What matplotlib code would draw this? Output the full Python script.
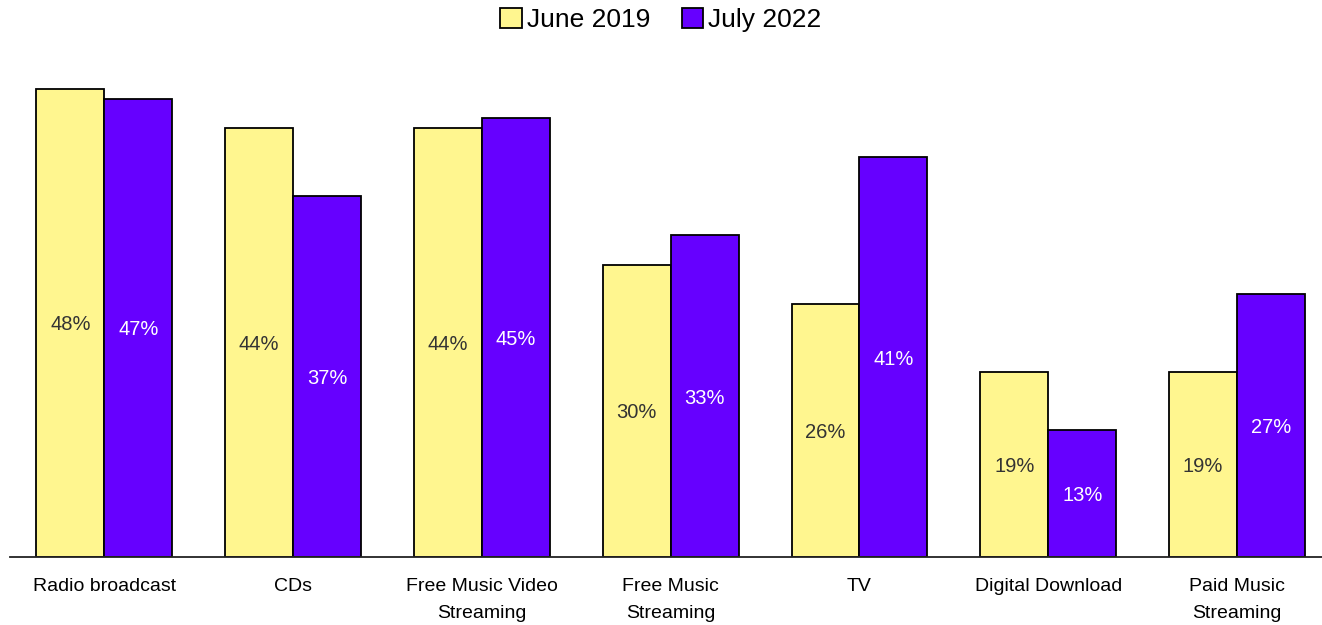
import numpy as np
import matplotlib.pyplot as plt

plt.rcParams['font.family'] = ['Liberation Sans', 'DejaVu Sans']

# Share of listeners by source
categories = ['Radio broadcast', 'CDs', 'Free Music Video\nStreaming', 'Free Music\nStreaming',
              'TV', 'Digital Download', 'Paid Music\nStreaming']
june_2019 = [48, 44, 44, 30, 26, 19, 19]
july_2022 = [47, 37, 45, 33, 41, 13, 27]

yellow = '#FFF68F'
purple = '#6600FF'

fig = plt.figure(figsize=(13.22, 6.25), dpi=100)
ax = fig.add_axes([10 / 1322, 68 / 625, 1312 / 1322, 487.5 / 625])

x = np.arange(len(categories))
w = 0.36
b1 = ax.bar(x - w / 2, june_2019, w, color=yellow, edgecolor='black', linewidth=1.3, label='June 2019')
b2 = ax.bar(x + w / 2, july_2022, w, color=purple, edgecolor='black', linewidth=1.3, label='July 2022')

for bars, vals, col in [(b1, june_2019, '#333333'), (b2, july_2022, 'white')]:
    for bar, v in zip(bars, vals):
        ax.text(bar.get_x() + bar.get_width() / 2, v / 2 - 0.2, f'{v}%',
                ha='center', va='center', fontsize=14.5, color=col)

ax.set_xlim(-0.5, 6.45)
ax.set_ylim(0, 50)
ax.set_xticks(x)
ax.set_xticklabels(categories, fontsize=14, linespacing=1.75)
ax.tick_params(axis='x', length=0, pad=15)
ax.set_yticks([])
for s in ['top', 'right', 'left']:
    ax.spines[s].set_visible(False)
ax.spines['bottom'].set_color('#222222')
ax.spines['bottom'].set_linewidth(1.3)

fig.legend(loc='upper center', bbox_to_anchor=(0.5, 1.025), ncol=2, frameon=False,
           fontsize=19, handlelength=0.8, handleheight=0.8, handletextpad=0.2,
           columnspacing=1.2)

fig.savefig('out.png', dpi=100)
